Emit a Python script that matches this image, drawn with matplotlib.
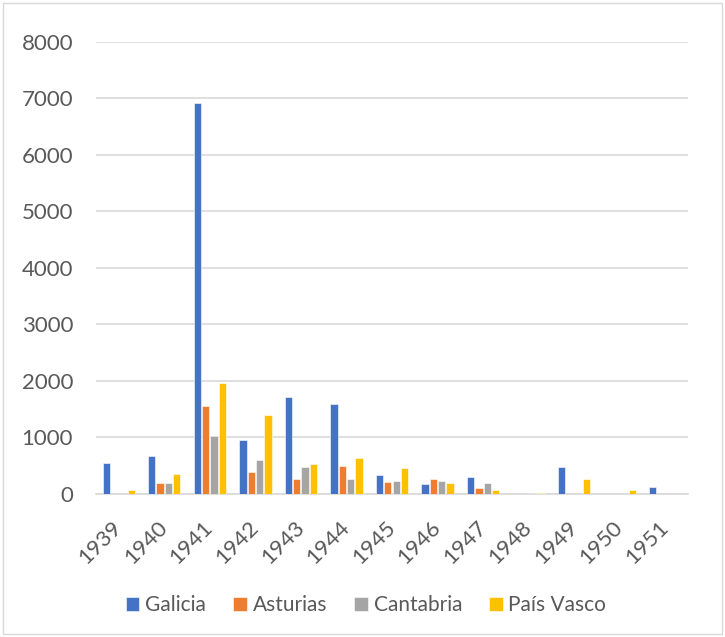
import matplotlib
matplotlib.use("Agg")
import matplotlib.pyplot as plt
import numpy as np

years = ["1939", "1940", "1941", "1942", "1943", "1944", "1945",
         "1946", "1947", "1948", "1949", "1950", "1951"]
galicia = [550, 670, 6920, 960, 1720, 1595, 330, 180, 305, 0, 476, 0, 120]
asturias = [0, 200, 1550, 390, 270, 495, 210, 262, 100, 0, 0, 0, 0]
cantabria = [0, 195, 1030, 595, 476, 262, 226, 238, 190, 10, 0, 0, 0]
pais_vasco = [70, 350, 1964, 1393, 530, 637, 458, 190, 77, 10, 262, 65, 0]
series_names = ["Galicia", "Asturias", "Cantabria", "País Vasco"]
colors = ["#4472C4", "#ED7D31", "#A5A5A5", "#FFC000"]

plt.rcParams['font.family'] = ['Lato', 'DejaVu Sans']
text_color = "#595959"

fig = plt.figure(figsize=(7.25, 6.37), dpi=100)
ax = fig.add_axes([0.1324, 0.2245, 0.8166, 0.7096])

x = np.arange(len(years))
w = 0.16
step = 0.183
data = [galicia, asturias, cantabria, pais_vasco]
for i, (vals, c, name) in enumerate(zip(data, colors, series_names)):
    ax.bar(x + (i - 1.5) * step, vals, width=w, color=c, label=name,
           edgecolor="white", linewidth=0.4, zorder=3)

ax.set_ylim(0, 8000)
ax.set_yticks(range(0, 8001, 1000))
ax.set_xlim(-0.5, len(years) - 0.5)
ax.set_xticks(x)
ax.set_xticklabels(years, rotation=45, ha="right", va="center", rotation_mode="anchor")
ax.tick_params(axis="both", length=0, colors=text_color, labelsize=16)
ax.tick_params(axis="x", pad=22)
ax.tick_params(axis="y", pad=16.5)
ax.grid(axis="y", color="#D9D9D9", linewidth=1.2, zorder=0)
for s in ["top", "right", "left"]:
    ax.spines[s].set_visible(False)
ax.spines["bottom"].set_color("#D9D9D9")
ax.spines["bottom"].set_linewidth(1.2)

leg = fig.legend(loc="center", bbox_to_anchor=(0.505, 0.05), ncol=4, frameon=False,
                 fontsize=15, handlelength=0.65, handleheight=0.65,
                 columnspacing=1.3, handletextpad=0.28)
for t in leg.get_texts():
    t.set_color(text_color)

border = plt.Rectangle((0.004, 0.004), 0.992, 0.992, transform=fig.transFigure,
                       fill=False, edgecolor="#D9D9D9", linewidth=1)
fig.patches.append(border)

fig.savefig("out.png", dpi=100, facecolor="white")
